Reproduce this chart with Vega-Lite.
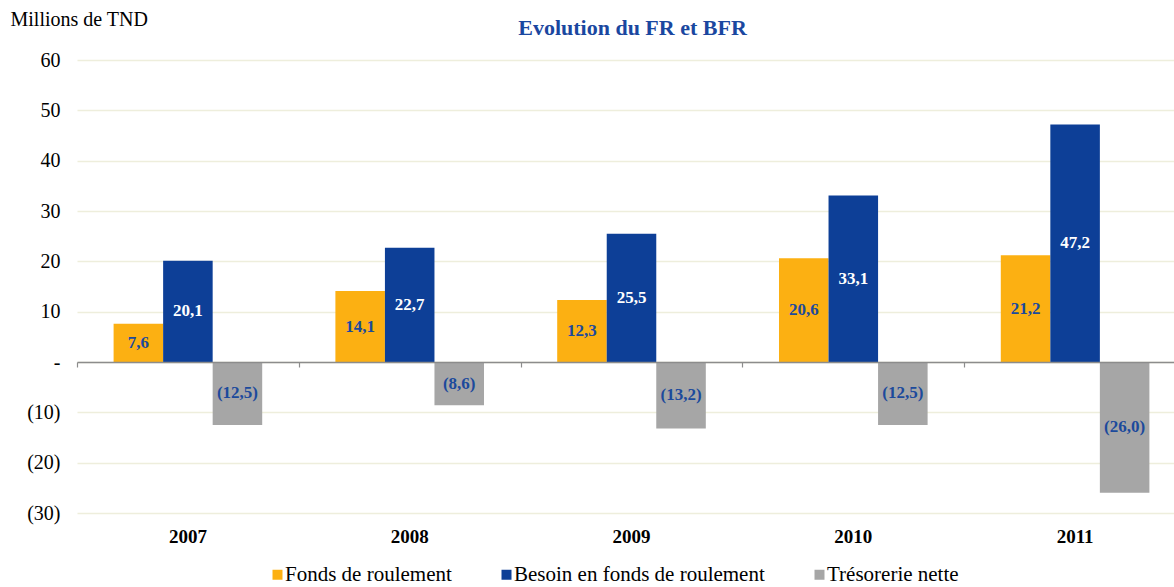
{
  "$schema": "https://vega.github.io/schema/vega-lite/v6.json",
  "width": 1097,
  "height": 453,
  "autosize": {"type": "none"},
  "padding": {"left": 77, "top": 60, "right": 0, "bottom": 74},
  "background": "white",
  "title": {
    "text": "Evolution du FR et BFR",
    "font": "Liberation Serif",
    "fontSize": 22,
    "fontWeight": "bold",
    "color": "#1A47A0",
    "anchor": "middle",
    "frame": "group",
    "dx": 7,
    "offset": 0,
    "dy": 31
  },
  "config": {
    "view": {"stroke": null},
    "font": "Liberation Serif"
  },
  "data": {
    "values": [
      {"year": "2007", "series": "Fonds de roulement", "value": 7.6},
      {"year": "2007", "series": "Besoin en fonds de roulement", "value": 20.1},
      {"year": "2007", "series": "Trésorerie nette", "value": -12.5},
      {"year": "2008", "series": "Fonds de roulement", "value": 14.1},
      {"year": "2008", "series": "Besoin en fonds de roulement", "value": 22.7},
      {"year": "2008", "series": "Trésorerie nette", "value": -8.6},
      {"year": "2009", "series": "Fonds de roulement", "value": 12.3},
      {"year": "2009", "series": "Besoin en fonds de roulement", "value": 25.5},
      {"year": "2009", "series": "Trésorerie nette", "value": -13.2},
      {"year": "2010", "series": "Fonds de roulement", "value": 20.6},
      {"year": "2010", "series": "Besoin en fonds de roulement", "value": 33.1},
      {"year": "2010", "series": "Trésorerie nette", "value": -12.5},
      {"year": "2011", "series": "Fonds de roulement", "value": 21.2},
      {"year": "2011", "series": "Besoin en fonds de roulement", "value": 47.2},
      {"year": "2011", "series": "Trésorerie nette", "value": -26.0}
    ]
  },
  "transform": [
    {"calculate": "(datum.value < 0 ? '(' : '') + replace(format(abs(datum.value), '.1f'), '.', ',') + (datum.value < 0 ? ')' : '')", "as": "label"},
    {"calculate": "datum.value / 2", "as": "mid"}
  ],
  "layer": [
    {
      "mark": {"type": "bar"},
      "encoding": {
        "x": {
          "field": "year",
          "type": "nominal",
          "scale": {"range": [0, 1109], "paddingInner": 0.33, "paddingOuter": 0.165},
          "axis": {
            "title": null,
            "labels": false,
            "offset": -151,
            "domain": true,
            "domainColor": "#8C8C8C",
            "domainWidth": 1.5,
            "ticks": true,
            "tickOffset": -111,
            "tickColor": "#8C8C8C",
            "tickSize": 5,
            "tickWidth": 1.2,
            "grid": false,
            "zindex": 1
          }
        },
        "xOffset": {
          "field": "series",
          "type": "nominal",
          "scale": {"domain": ["Fonds de roulement", "Besoin en fonds de roulement", "Trésorerie nette"], "paddingInner": 0, "paddingOuter": 0}
        },
        "y": {
          "field": "value",
          "type": "quantitative",
          "scale": {"domain": [-30, 60], "nice": false},
          "axis": {
            "title": "Millions de TND",
            "titleAngle": 0,
            "titleAlign": "left",
            "titleBaseline": "alphabetic",
            "titleX": -67,
            "titleY": -35,
            "titleFont": "Liberation Serif",
            "titleFontSize": 20,
            "titleFontWeight": "normal",
            "titleColor": "#000000",
            "values": [-30, -20, -10, 0, 10, 20, 30, 40, 50, 60],
            "labelExpr": "datum.value == 0 ? '-\u00a0' : (datum.value < 0 ? '(' + abs(datum.value) + ')' : datum.value + '\u00a0')",
            "labelFont": "Liberation Serif",
            "labelFontSize": 20,
            "labelColor": "#000000",
            "labelPadding": 17,
            "domain": false,
            "ticks": false,
            "grid": true,
            "gridColor": "#EEEEDC",
            "gridWidth": 1.5
          }
        },
        "color": {
          "field": "series",
          "type": "nominal",
          "scale": {
            "domain": ["Fonds de roulement", "Besoin en fonds de roulement", "Trésorerie nette"],
            "range": ["#FCB012", "#0D3F97", "#A6A6A6"]
          },
          "legend": {
            "title": null,
            "orient": "none",
            "direction": "horizontal",
            "legendX": 190,
            "legendY": 504,
            "padding": 0,
            "symbolType": "square",
            "symbolSize": 100,
            "symbolStrokeWidth": 0,
            "symbolOpacity": 1,
            "labelFont": "Liberation Serif",
            "labelFontSize": 21,
            "labelColor": "#000000",
            "labelOffset": -3,
            "columnPadding": 44,
            "labelLimit": 400
          }
        }
      }
    },
    {
      "mark": {"type": "text", "font": "Liberation Serif", "fontSize": 17, "fontWeight": "bold", "baseline": "middle", "align": "center"},
      "encoding": {
        "x": {
          "field": "year",
          "type": "nominal",
          "axis": {
            "title": null,
            "orient": "bottom",
            "domain": false,
            "ticks": false,
            "grid": false,
            "labelAngle": 0,
            "labelFont": "Liberation Serif",
            "labelFontSize": 19,
            "labelFontWeight": "bold",
            "labelColor": "#000000",
            "labelPadding": 14
          }
        },
        "xOffset": {"field": "series", "type": "nominal"},
        "y": {"field": "mid", "type": "quantitative"},
        "text": {"field": "label"},
        "color": {
          "condition": {"test": "datum.series === 'Besoin en fonds de roulement'", "value": "#FFFFFF"},
          "value": "#1C4A9C"
        }
      }
    }
  ],
  "resolve": {"scale": {"x": "shared", "y": "shared"}, "axis": {"x": "independent"}}
}
